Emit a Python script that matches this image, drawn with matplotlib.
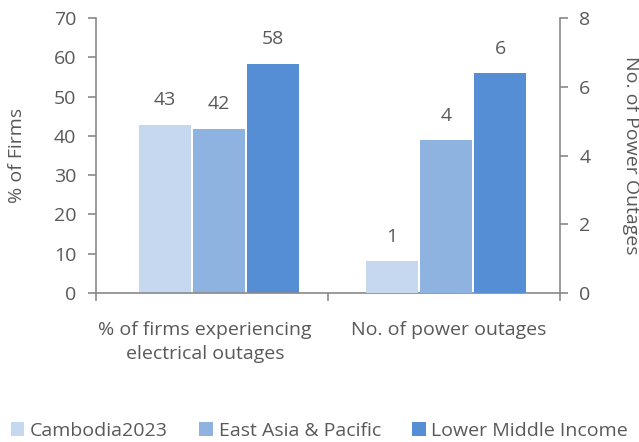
import matplotlib.pyplot as plt
import numpy as np

plt.rcParams['font.family'] = ['Open Sans', 'DejaVu Sans']

categories = ['% of firms experiencing\nelectrical outages', 'No. of power outages']
series = ['Cambodia2023', 'East Asia & Pacific', 'Lower Middle Income']
pct_firms = [42.8, 41.8, 58.3]        # left axis
n_outages = [0.93, 4.45, 6.4]         # right axis
labels_pct = ['43', '42', '58']
labels_n = ['1', '4', '6']
colors = ['#C6D8EF', '#8FB3E1', '#558ED5']
grey = '#595959'
axcol = '#898989'
fs = 14

fig = plt.figure(figsize=(6.39, 4.42), dpi=100)
ax = fig.add_axes([0.150, 0.337, 0.726, 0.622])
ax2 = ax.twinx()

w = 0.224
offs = [-0.233 + 0.03, 0.03, 0.233 + 0.03]
for i in range(3):
    ax.bar(0 + offs[i], pct_firms[i], w, color=colors[i], label=series[i])
    ax.text(0 + offs[i], pct_firms[i] + 4, labels_pct[i], ha='center', va='bottom',
            fontsize=fs, color=grey)
for i in range(3):
    o = offs[i] - 0.02
    ax2.bar(1 + o, n_outages[i], w, color=colors[i])
    ax2.text(1 + o, n_outages[i] + 0.45, labels_n[i], ha='center', va='bottom',
             fontsize=fs, color=grey)

ax.set_xlim(-0.5, 1.5)
ax.set_ylim(0, 70)
ax2.set_ylim(0, 8)
ax.set_yticks(range(0, 71, 10))
ax2.set_yticks(range(0, 9, 2))
ax.set_xticks([-0.5, 0.5, 1.5])
ax.set_xticklabels([])
ax.set_xticks([-0.03, 1.02], minor=True)
ax.set_xticklabels(categories, minor=True, fontsize=fs, color=grey, linespacing=1.45)
ax.tick_params(axis='x', which='minor', length=0, pad=20)
ax.tick_params(axis='x', which='major', length=6, color=axcol, width=1.2)

for a in (ax, ax2):
    for s in a.spines.values():
        s.set_visible(False)
ax.spines['left'].set_visible(True)
ax.spines['left'].set_color(axcol)
ax.spines['left'].set_linewidth(1.2)
ax.spines['bottom'].set_visible(True)
ax.spines['bottom'].set_color(axcol)
ax.spines['bottom'].set_linewidth(1.2)
ax2.spines['right'].set_visible(True)
ax2.spines['right'].set_color(axcol)
ax2.spines['right'].set_linewidth(1.2)

ax.tick_params(axis='y', labelsize=fs, labelcolor=grey, color=axcol, length=6, width=1.2, pad=8)
ax2.tick_params(axis='y', labelsize=fs, labelcolor=grey, color=axcol, length=6, width=1.2, pad=8)

fig.text(0.027, 0.648, '% of Firms', rotation=90, ha='center', va='center',
         fontsize=fs, color=grey)
fig.text(0.988, 0.648, 'No. of Power Outages', rotation=270, ha='center', va='center',
         fontsize=fs, color=grey)

fig.legend(loc='center', bbox_to_anchor=(0.5, 0.025), ncol=3, frameon=False,
           fontsize=fs, labelcolor=grey, handlelength=0.7, handleheight=0.7,
           handletextpad=0.3, columnspacing=1.6)

fig.savefig('out.png', dpi=100)
